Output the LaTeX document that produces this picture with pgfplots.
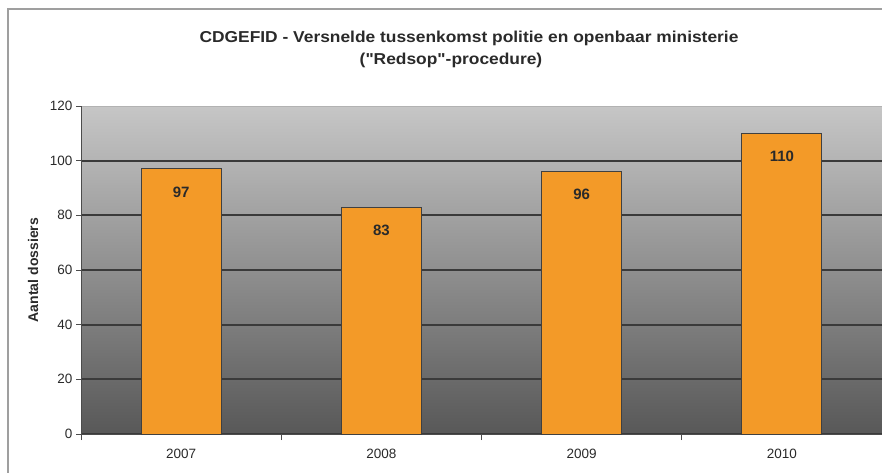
\documentclass[border=0pt]{standalone}
\usepackage{pgfplots}
\pgfplotsset{compat=1.18}
\usepackage{fontspec}
\setmainfont{Liberation Sans}
\newfontfamily\titlefont{Liberation Sans}[Ligatures=TeXOff, FakeStretch=1.1]
\definecolor{barorange}{HTML}{F39A28}
\definecolor{bgtop}{HTML}{C6C6C6}
\definecolor{bgbot}{HTML}{585858}
\definecolor{gridc}{HTML}{3A3A3A}
\definecolor{txt}{HTML}{2A2A2A}
\begin{document}
\begin{tikzpicture}[x=1pt,y=1pt]
\useasboundingbox (0,0) rectangle (882,472);
\draw[gray!75, line width=1.5pt] (8,-20) -- (8,463) -- (900,463);
\node[font=\titlefont\bfseries\fontsize{15.8}{18}\selectfont, text=txt] at (469,434) {CDGEFID - Versnelde tussenkomst politie en openbaar ministerie};
\node[font=\titlefont\bfseries\fontsize{15.8}{18}\selectfont, text=txt] at (451,412) {("Redsop"-procedure)};
\node[font=\bfseries\fontsize{14}{16}\selectfont, text=txt, rotate=90] at (33,202) {Aantal dossiers};
\begin{axis}[
  at={(81pt,38pt)}, anchor=south west, scale only axis,
  width=801pt, height=328pt,
  xmin=-0.5, xmax=3.5, ymin=0, ymax=120,
  /pgf/number format/assume math mode=true,
  axis x line*=bottom, axis y line*=left,
  axis line style={draw=black!70, line width=1pt},
  axis background/.style={shade, top color=bgtop, bottom color=bgbot, draw=gray!60, line width=1pt},
  ytick={0,20,...,100}, extra y ticks={120}, extra y tick style={grid=none},
  ymajorgrids, major grid style={draw=gridc, line width=1.8pt},
  xtick={0,1,2,3}, xticklabels={2007,2008,2009,2010},
  minor xtick={-0.5,0.5,1.5,2.5,3.5},
  tick align=outside, major tick length=5pt, minor tick length=6pt,
  xtick style={draw=none}, minor x tick style={draw=black!70, line width=1pt},
  ytick style={draw=black!70, line width=1pt},
  ticklabel style={font=\fontsize{13.5}{15}\selectfont, text=txt},
  xticklabel style={yshift=-7pt},
  ybar, bar width=80pt,
  nodes near coords,
  every node near coord/.append style={font=\bfseries\fontsize{15}{17}\selectfont, text=txt, anchor=center, yshift=-23pt},
]
\addplot[fill=barorange, draw=black!75, line width=1pt] coordinates {(0,97) (1,83) (2,96) (3,110)};
\end{axis}
\end{tikzpicture}
\end{document}
